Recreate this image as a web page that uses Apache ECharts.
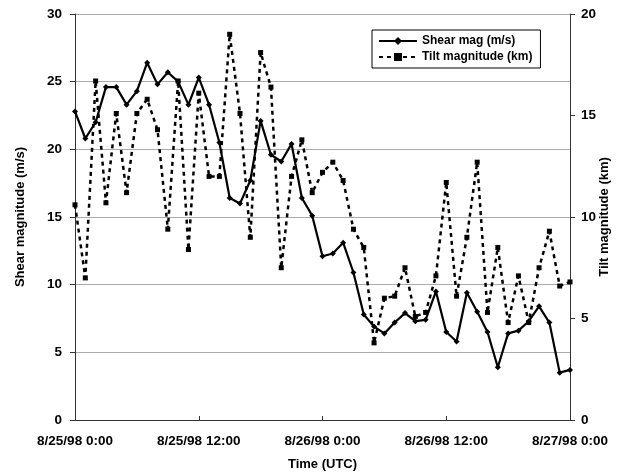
<!DOCTYPE html>
<html>
<head>
<meta charset="utf-8">
<script src="https://cdn.jsdelivr.net/npm/echarts@6/dist/echarts.min.js"></script>
<style>
  html, body { margin: 0; padding: 0; background: #fff; }
  #chart { width: 618px; height: 474px; }
</style>
</head>
<body>
<div id="chart"></div>
<script>
// hourly samples, hour 0 = 8/25/98 0:00
const hours = Array.from({ length: 49 }, (_, i) => i)

// shear magnitude (m/s), left axis
const shearMag = [
  22.8, 20.8, 22.0, 24.6, 24.6, 23.3, 24.3, 26.4, 24.8, 25.7,
  25.0, 23.3, 25.3, 23.3, 20.5, 16.4, 16.0, 17.7, 22.1, 19.6,
  19.1, 20.4, 16.4, 15.1, 12.1, 12.3, 13.1, 10.9, 7.8, 6.9,
  6.4, 7.2, 7.9, 7.3, 7.4, 9.5, 6.5, 5.8, 9.4, 8.0,
  6.5, 3.9, 6.4, 6.6, 7.3, 8.4, 7.2, 3.5, 3.7,
]

// tilt magnitude (km), right axis
const tiltMag = [
  10.6, 7.0, 16.7, 10.7, 15.1, 11.2, 15.1, 15.8, 14.3, 9.4,
  16.7, 8.4, 16.1, 12.0, 12.0, 19.0, 15.1, 9.0, 18.1, 16.4,
  7.5, 12.0, 13.8, 11.2, 12.2, 12.7, 11.8, 9.4, 8.5, 3.8,
  6.0, 6.1, 7.5, 5.1, 5.3, 7.1, 11.7, 6.1, 9.0, 12.7,
  5.3, 8.5, 4.8, 7.1, 4.8, 7.5, 9.3, 6.6, 6.8,
]

// x tick labels every 12 hours
const timeLabels = ['8/25/98 0:00', '8/25/98 12:00', '8/26/98 0:00', '8/26/98 12:00', '8/27/98 0:00']

const font = 'Liberation Sans, Arial, sans-serif'

const chart = echarts.init(document.getElementById('chart'), null, { renderer: 'canvas' })

const option = {
  animation: false,
  backgroundColor: '#fff',
  textStyle: { fontFamily: font },
  grid: { left: 75, right: 48, top: 14, bottom: 54, containLabel: false, outerBoundsMode: 'none' },
  legend: {
    left: 372,
    top: 30,
    orient: 'vertical',
    backgroundColor: '#fff',
    borderColor: '#000',
    borderWidth: 1,
    borderRadius: 0,
    padding: [5, 8, 5, 6],
    itemGap: 4,
    itemWidth: 38,
    itemHeight: 10,
    textStyle: { fontFamily: font, fontWeight: 'bold', fontSize: 12, color: '#000' },
    data: [
      { name: 'Shear mag (m/s)' },
      { name: 'Tilt magnitude (km)' },
    ],
  },
  xAxis: {
    type: 'value',
    min: 0,
    max: 48,
    interval: 12,
    name: 'Time (UTC)',
    nameLocation: 'middle',
    nameGap: 38,
    nameTextStyle: { fontFamily: font, fontWeight: 'bold', fontSize: 13, color: '#000' },
    axisLine: { lineStyle: { color: '#333', width: 1 } },
    axisTick: { show: true, inside: true, length: 4, lineStyle: { color: '#333' } },
    splitLine: { show: false },
    axisLabel: {
      margin: 14,
      fontFamily: font,
      fontWeight: 'bold',
      fontSize: 13.5,
      color: '#000',
      formatter: (v) => timeLabels[v / 12],
    },
  },
  yAxis: [
    {
      type: 'value',
      min: 0,
      max: 30,
      interval: 5,
      name: 'Shear magnitude (m/s)',
      nameLocation: 'middle',
      nameRotate: 90,
      nameGap: 48,
      nameTextStyle: { fontFamily: font, fontWeight: 'bold', fontSize: 13, color: '#000' },
      axisLine: { show: true, lineStyle: { color: '#333', width: 1 } },
      axisTick: { show: true, length: 5, lineStyle: { color: '#333' } },
      splitLine: { show: true, lineStyle: { color: '#aaa', width: 1 } },
      axisLabel: { margin: 13, fontFamily: font, fontWeight: 'bold', fontSize: 13.5, color: '#000' },
    },
    {
      type: 'value',
      min: 0,
      max: 20,
      interval: 5,
      position: 'right',
      name: 'Tilt magnitude (km)',
      nameLocation: 'middle',
      nameRotate: 90,
      nameGap: 28,
      nameMoveOverlap: false,
      nameTextStyle: { fontFamily: font, fontWeight: 'bold', fontSize: 13, color: '#000' },
      axisLine: { show: true, lineStyle: { color: '#333', width: 1 } },
      axisTick: { show: true, length: 5, lineStyle: { color: '#333' } },
      splitLine: { show: false },
      axisLabel: { margin: 11, fontFamily: font, fontWeight: 'bold', fontSize: 13.5, color: '#000' },
    },
  ],
  series: [
    {
      name: 'Shear mag (m/s)',
      type: 'line',
      yAxisIndex: 0,
      data: hours.map((h, i) => [h, shearMag[i]]),
      symbol: 'diamond',
      symbolSize: 6,
      itemStyle: { color: '#000' },
      lineStyle: { color: '#000', width: 2.2 },
      z: 3,
    },
    {
      name: 'Tilt magnitude (km)',
      type: 'line',
      yAxisIndex: 1,
      data: hours.map((h, i) => [h, tiltMag[i]]),
      symbol: 'rect',
      symbolSize: 5,
      itemStyle: { color: '#000' },
      lineStyle: { color: '#000', width: 2.5, type: [4, 4] },
      z: 2,
    },
  ],
}

chart.setOption(option)
</script>
</body>
</html>
